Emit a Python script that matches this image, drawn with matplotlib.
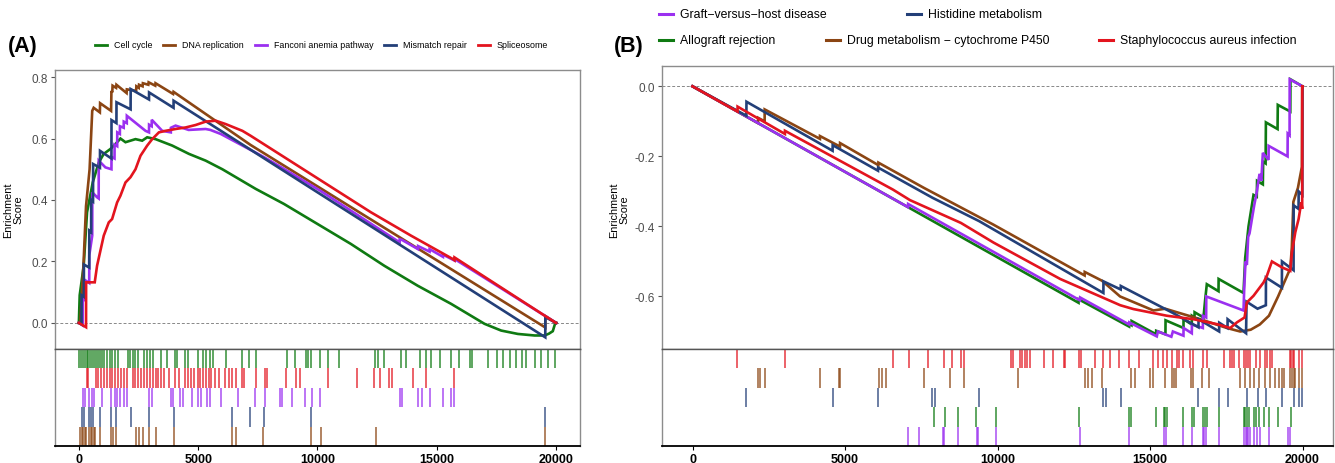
import matplotlib
matplotlib.use("Agg")
import matplotlib.pyplot as plt
from matplotlib.lines import Line2D

plt.rcParams["font.family"] = ["Liberation Sans", "DejaVu Sans"]
plt.rcParams["axes.unicode_minus"] = False

# ---------------- colours ----------------
GREEN = "#0f7a12"
BROWN = "#8b4513"
PURPLE = "#9b30f0"
BLUE = "#233f78"
RED = "#e3141e"

# ---------------- panel A: running enrichment score ----------------
a_cell_x = [0, 35, 203, 343, 581, 833, 1043, 1323, 1533, 1743, 1953, 2373, 2653, 2863, 3213, 3913,
            4613, 5313, 6013, 6713, 7413, 8597, 9997, 11397, 12797, 14197, 15597, 16997, 17697,
            18397, 19097, 19517, 19700, 19860, 19965, 20000]
a_cell_y = [0.0, 0.09, 0.186, 0.36, 0.457, 0.522, 0.55, 0.566, 0.582, 0.60, 0.588, 0.598, 0.593,
            0.604, 0.598, 0.577, 0.55, 0.528, 0.50, 0.468, 0.436, 0.387, 0.322, 0.257, 0.186,
            0.121, 0.062, -0.003, -0.025, -0.036, -0.041, -0.041, -0.035, -0.027, 0.0, 0.0]

a_dna_x = [0, 60, 200, 300, 450, 560, 620, 880, 890, 1350, 1365, 1400, 1413, 1560, 1574, 2000,
           2010, 2400, 2409, 2510, 2521, 2670, 2682, 2910, 2923, 3200, 3212, 3950, 3967, 7197,
           19547, 19550, 20000]
a_dna_y = [0.0, 0.0, 0.20, 0.38, 0.50, 0.69, 0.70, 0.685, 0.715, 0.69, 0.755, 0.75, 0.772, 0.765,
           0.775, 0.748, 0.76, 0.755, 0.77, 0.765, 0.775, 0.77, 0.78, 0.775, 0.783, 0.772, 0.78,
           0.745, 0.752, 0.579, -0.015, 0.022, 0.0]

a_fan_x = [0, 160, 163, 241, 244, 434, 437, 560, 563, 760, 830, 833, 1113, 1365, 1368, 1494, 1497,
           1606, 1609, 1718, 1721, 1879, 1882, 2008, 2011, 2793, 2939, 2942, 3051, 3054, 3493,
           3854, 3857, 4053, 4600, 5313, 5509, 5942, 6665, 7388, 7789, 8512, 9475, 10118, 13442,
           13445, 13539, 14213, 14216, 14695, 14698, 15257, 15260, 15739, 15742, 20000]
a_fan_y = [0.0, -0.008, 0.08, 0.075, 0.14, 0.13, 0.22, 0.284, 0.425, 0.409, 0.405, 0.528, 0.506,
           0.50, 0.54, 0.535, 0.58, 0.575, 0.62, 0.615, 0.64, 0.635, 0.655, 0.65, 0.674, 0.625,
           0.62, 0.645, 0.64, 0.661, 0.625, 0.62, 0.635, 0.642, 0.628, 0.631, 0.628, 0.615, 0.585,
           0.555, 0.538, 0.505, 0.46, 0.43, 0.262, 0.272, 0.27, 0.24, 0.25, 0.232, 0.24, 0.215,
           0.222, 0.203, 0.208, 0.0]

a_mis_x = [0, 112, 115, 209, 212, 434, 437, 514, 517, 594, 597, 883, 886, 1365, 1368, 1574, 1577,
           2168, 2171, 2939, 2942, 3967, 3970, 19545, 19548, 20000]
a_mis_y = [0.0, -0.005, 0.09, 0.085, 0.19, 0.18, 0.30, 0.295, 0.40, 0.395, 0.517, 0.505, 0.56,
           0.535, 0.66, 0.65, 0.718, 0.695, 0.761, 0.727, 0.75, 0.70, 0.723, -0.047, 0.0185, 0.0]

a_spl_x = [0, 301, 304, 665, 763, 1043, 1253, 1393, 1603, 1743, 1953, 2163, 2373, 2583, 2863, 3073,
           3353, 3633, 4053, 4473, 4893, 5313, 5733, 6153, 6853, 7197, 12237, 13917, 15667, 15739,
           15742, 19990, 20000]
a_spl_y = [0.0, -0.014, 0.132, 0.132, 0.186, 0.284, 0.327, 0.338, 0.392, 0.414, 0.457, 0.474,
           0.50, 0.544, 0.577, 0.598, 0.62, 0.625, 0.631, 0.636, 0.644, 0.655, 0.658, 0.647,
           0.625, 0.609, 0.36, 0.284, 0.208, 0.204, 0.213, 0.0, 0.0]

# panel A hit positions (ranks)
a_cell_hits = [0, 80, 161, 241, 321, 402, 482, 562, 642, 723, 803, 883, 964, 1044, 1172, 1285,
               1397, 1526, 1622, 2040, 2136, 2248, 2361, 2489, 2746, 2843, 2971, 3100, 3453, 3694,
               4015, 4127, 4449, 4577, 4979, 5220, 5348, 5509, 5621, 6151, 6826, 7147, 7436, 8721,
               9042, 9508, 9604, 9716, 10118, 10439, 10921, 12414, 12527, 12768, 13490, 13699,
               14293, 14534, 14775, 15145, 15578, 15948, 16381, 16462, 17136, 17505, 17778, 18068,
               18308, 18581, 18742, 19111, 19352, 19674, 19963]
a_spl_hits = [321, 402, 723, 803, 915, 1044, 1172, 1285, 1397, 1526, 1654, 1767, 1879, 2008, 2248,
              2361, 2489, 2618, 2730, 2843, 2971, 3100, 3212, 3324, 3453, 3581, 3774, 4015, 4176,
              4449, 4577, 4706, 4818, 4979, 5091, 5220, 5348, 5460, 5541, 5701, 5862, 6103, 6295,
              6424, 6585, 6826, 6906, 7436, 7789, 7869, 8672, 9106, 9267, 10439, 11676, 12366,
              12639, 13009, 13121, 14020, 14534, 15739]
a_fan_hits = [161, 241, 434, 562, 642, 964, 1365, 1494, 1606, 1718, 1879, 2008, 2939, 3051, 3854,
              3935, 4256, 4384, 4738, 4979, 5139, 5380, 5509, 5942, 6665, 7388, 7789, 8432, 8512,
              8945, 9475, 9764, 10118, 13442, 13539, 14213, 14374, 14695, 15257, 15578, 15739]
a_mis_hits = [112, 209, 434, 514, 594, 883, 1365, 1574, 2168, 2939, 3967, 6424, 7179, 7757, 9748,
              19545]
a_dna_hits = [48, 112, 177, 241, 305, 434, 498, 562, 626, 691, 883, 1365, 1413, 1574, 2409, 2521,
              2682, 2923, 3212, 3967, 6424, 6585, 7709, 9748, 10166, 12446, 19545]

a_names = ["Cell cycle", "DNA replication", "Fanconi anemia pathway", "Mismatch repair", "Spliceosome"]

# ---------------- panel B: running enrichment score ----------------
b_allo_x = [0, 12657, 12660, 14316, 14320, 14393, 14397, 15200, 15203, 15506, 15510,
            16097, 16100, 16370, 16373, 16458, 16462, 16753, 16808, 16863, 17246, 17250, 18066,
            18121, 18230, 18394, 18500, 18510, 18700, 18710, 18790, 18800, 19182, 19190, 19600,
            19605, 20000]
b_allo_y = [0.0, -0.618, -0.608, -0.686, -0.678, -0.682, -0.670, -0.708, -0.698,
            -0.708, -0.668, -0.69, -0.665, -0.68, -0.655, -0.66, -0.645, -0.66, -0.61, -0.565,
            -0.585, -0.55, -0.59, -0.49, -0.40, -0.31, -0.315, -0.27, -0.28, -0.215, -0.22,
            -0.103, -0.122, -0.053, -0.072, 0.02, 0.0]

b_drug_x = [0, 2150, 2152, 2365, 2367, 4178, 4180, 4835, 4838, 6093, 6096, 7588, 9867, 12856,
            12860, 13425, 14019, 15113, 15500, 15880, 16650, 17520, 17957, 18300, 18600, 18900,
            19200, 19300, 19600, 19650, 19700, 19850, 19980, 19990, 20000]
b_drug_y = [0.0, -0.105, -0.090, -0.100, -0.066, -0.150, -0.142, -0.172, -0.162, -0.225, -0.218,
            -0.290, -0.395, -0.540, -0.530, -0.555, -0.600, -0.640, -0.635, -0.645, -0.665,
            -0.69, -0.70, -0.695, -0.68, -0.655, -0.60, -0.58, -0.52, -0.46, -0.33, -0.29,
            -0.23, 0.0, 0.0]

b_gvh_x = [0, 7066, 7070, 12703, 12710, 14316, 14320, 15223, 15260, 15700, 15750, 16097, 16100,
           16370, 16375, 16732, 16735, 16841, 16845, 18066, 18088, 18132, 18176, 18219, 18263,
           18416, 18504, 18591, 18650, 18700, 18887, 18890, 19510, 19515, 19576, 19580, 20000]
b_gvh_y = [0.0, -0.345, -0.336, -0.611, -0.603, -0.680, -0.674, -0.714, -0.70, -0.715, -0.70,
           -0.712, -0.69, -0.705, -0.68, -0.69, -0.655, -0.66, -0.60, -0.64, -0.58, -0.50, -0.51,
           -0.43, -0.42, -0.34, -0.30, -0.25, -0.27, -0.19, -0.21, -0.17, -0.20, -0.135, -0.14,
           0.02, 0.0]

b_his_x = [0, 1766, 1770, 4593, 4596, 6083, 6086, 7864, 9400, 13471, 13475, 14039, 14043, 15770,
           16589, 16592, 17267, 17270, 17541, 17545, 18150, 18165, 18526, 18799, 18802, 19324,
           19327, 19707, 19710, 19871, 19874, 19995, 19998, 20000]
b_his_y = [0.0, -0.084, -0.044, -0.184, -0.168, -0.241, -0.232, -0.318, -0.385, -0.590, -0.557,
           -0.580, -0.570, -0.648, -0.688, -0.665, -0.700, -0.675, -0.690, -0.665, -0.705, -0.615,
           -0.635, -0.625, -0.546, -0.575, -0.50, -0.525, -0.34, -0.35, -0.30, -0.31, 0.0, 0.0]

b_sta_x = [0, 1476, 1478, 3030, 3032, 6574, 7132, 8800, 9867, 12055, 14024, 14457, 15551, 16426,
           17192, 17630, 17849, 18100, 18177, 18395, 18723, 18833, 18997, 19325, 19599, 19654,
           19763, 19872, 19960, 19990, 19992, 20000]
b_sta_y = [0.0, -0.072, -0.058, -0.136, -0.127, -0.295, -0.325, -0.39, -0.446, -0.55, -0.625,
           -0.636, -0.655, -0.665, -0.679, -0.690, -0.674, -0.66, -0.617, -0.598, -0.56, -0.541,
           -0.50, -0.517, -0.527, -0.474, -0.417, -0.379, -0.331, -0.35, 0.0, 0.0]

# panel B hit positions (ranks)
b_sta_hits = [1459, 3026, 6574, 7112, 7711, 8248, 8509, 8817, 8909, 10429, 10522, 10737, 10813,
              10890, 10967, 11059, 11520, 11827, 12165, 12211, 12672, 12733, 13194, 13471, 13701,
              13978, 14316, 14623, 15090, 15277, 15441, 15572, 15725, 15900, 15966, 16097, 16316,
              16403, 16732, 16863, 17410, 17629, 17683, 17760, 17902, 18088, 18143, 18198, 18285,
              18482, 18614, 18777, 18832, 18942, 18996, 19576, 19620, 19675, 19729, 19871, 19990]
b_drug_hits = [2150, 2212, 2365, 4178, 4792, 4838, 6129, 6221, 6328, 7588, 8448, 8909, 10660,
               12856, 12964, 13087, 13425, 14362, 14515, 15003, 15112, 15495, 15714, 15791, 15856,
               16338, 16403, 16699, 16950, 17935, 18121, 18263, 18394, 18558, 18777, 18919, 19105,
               19215, 19324, 19401, 19576, 19642, 19707, 19762, 19871, 19981]
b_his_hits = [1766, 4593, 6083, 7864, 7941, 9400, 13471, 13548, 14039, 16589, 17267, 17541,
              18165, 18526, 18799, 19324, 19707, 19871, 19995]
b_allo_hits = [7910, 8294, 8709, 9293, 9938, 12657, 14316, 14393, 15200, 15462, 15506, 15550,
               16097, 16370, 16458, 16753, 16808, 16863, 17246, 18066, 18121, 18176, 18230, 18394,
               18482, 18558, 18722, 18887, 19182, 19620]
b_gvh_hits = [7066, 7434, 8202, 8248, 8709, 9324, 9370, 9938, 12703, 14316, 15462, 15528, 16097,
              16370, 16732, 16775, 16841, 17246, 18088, 18132, 18176, 18219, 18263, 18416, 18504,
              18591, 18887, 19510, 19576]

b_names = ["Allograft rejection", "Drug metabolism \u2212 cytochrome P450",
           "Graft\u2212versus\u2212host disease", "Histidine metabolism",
           "Staphylococcus aureus infection"]

# ---------------- figure ----------------
W, H = 1335, 464
fig = plt.figure(figsize=(W / 100, H / 100), dpi=100)


def frac(left, top, right, bottom):
    return [left / W, 1 - bottom / H, (right - left) / W, (bottom - top) / H]


def style_top(ax, ylim, yticks):
    ax.set_xlim(-1000, 21000)
    ax.set_ylim(*ylim)
    ax.set_xticks([])
    ax.set_yticks(yticks)
    ax.set_yticklabels([f"{t:.1f}" for t in yticks])
    ax.tick_params(axis="y", length=3, width=0.8, color="#555555", labelsize=8.5,
                   labelcolor="#4d4d4d", pad=2)
    for s in ax.spines.values():
        s.set_color("#8c8c8c")
        s.set_linewidth(1.0)
    ax.spines["bottom"].set_color("#555555")
    ax.axhline(0, color="#888888", lw=0.7, ls=(0, (3, 2)), zorder=0)


def style_rug(ax):
    ax.set_xlim(-1000, 21000)
    ax.set_ylim(0, 5)
    ax.set_yticks([])
    ax.set_xticks([0, 5000, 10000, 15000, 20000])
    ax.tick_params(axis="x", length=3, width=0.8, labelsize=9, pad=2)
    for lab in ax.get_xticklabels():
        lab.set_fontweight("bold")
    for s in ax.spines.values():
        s.set_color("#8c8c8c")
        s.set_linewidth(1.0)
    ax.spines["top"].set_color("#555555")
    ax.spines["bottom"].set_color("black")
    ax.spines["bottom"].set_linewidth(1.3)


# ---- panel A ----
axA = fig.add_axes(frac(55, 71, 580, 350))
rugA = fig.add_axes(frac(55, 350, 580, 447))
style_top(axA, (-0.085, 0.823), [0.0, 0.2, 0.4, 0.6, 0.8])
style_rug(rugA)

a_curves = [(a_cell_x, a_cell_y, GREEN), (a_dna_x, a_dna_y, BROWN), (a_fan_x, a_fan_y, PURPLE),
            (a_mis_x, a_mis_y, BLUE), (a_spl_x, a_spl_y, RED)]
for xs, ys, c in a_curves:
    axA.plot(xs, ys, color=c, lw=1.9, solid_joinstyle="miter")

# rug rows, top to bottom
a_rows = [(a_cell_hits, GREEN), (a_spl_hits, RED), (a_fan_hits, PURPLE), (a_mis_hits, BLUE),
          (a_dna_hits, BROWN)]
for i, (hits, c) in enumerate(a_rows):
    rugA.vlines(hits, 4 - i, 5 - i, color=c, lw=1.1, alpha=0.85)

fig.text(8 / W, 1 - 47 / H, "(A)", fontsize=15.5, fontweight="bold", va="center")
fig.text(13 / W, 1 - 210 / H, "Enrichment\nScore", rotation=90, fontsize=7.8,
         ha="center", va="center", linespacing=1.0)

a_leg = [(114, a_names[0], GREEN), (182, a_names[1], BROWN), (274, a_names[2], PURPLE),
         (403, a_names[3], BLUE), (497, a_names[4], RED)]
for tx, name, c in a_leg:
    yy = 1 - 46 / H
    fig.add_artist(Line2D([(tx - 19) / W, (tx - 7) / W], [yy, yy], color=c, lw=2,
                          transform=fig.transFigure))
    fig.text(tx / W, yy, name, fontsize=6.4, va="center")

# ---- panel B ----
axB = fig.add_axes(frac(662, 67, 1333, 350))
rugB = fig.add_axes(frac(662, 350, 1333, 447))
style_top(axB, (-0.75, 0.058), [0.0, -0.2, -0.4, -0.6])
axB.set_yticklabels(["0.0", "-0.2", "-0.4", "-0.6"])
style_rug(rugB)

b_curves = [(b_allo_x, b_allo_y, GREEN), (b_drug_x, b_drug_y, BROWN), (b_gvh_x, b_gvh_y, PURPLE),
            (b_his_x, b_his_y, BLUE), (b_sta_x, b_sta_y, RED)]
for xs, ys, c in b_curves:
    axB.plot(xs, ys, color=c, lw=1.9, solid_joinstyle="miter")

b_rows = [(b_sta_hits, RED), (b_drug_hits, BROWN), (b_his_hits, BLUE), (b_allo_hits, GREEN),
          (b_gvh_hits, PURPLE)]
for i, (hits, c) in enumerate(b_rows):
    rugB.vlines(hits, 4 - i, 5 - i, color=c, lw=1.1, alpha=0.85)

fig.text(614 / W, 1 - 47 / H, "(B)", fontsize=15.5, fontweight="bold", va="center")
fig.text(619 / W, 1 - 210 / H, "Enrichment\nScore", rotation=90, fontsize=7.8,
         ha="center", va="center", linespacing=1.0)

b_leg = [(659, 15, b_names[2], PURPLE), (907, 15, b_names[3], BLUE),
         (659, 41, b_names[0], GREEN), (826, 41, b_names[1], BROWN), (1099, 41, b_names[4], RED)]
for x0, y0, name, c in b_leg:
    yy = 1 - y0 / H
    fig.add_artist(Line2D([x0 / W, (x0 + 14) / W], [yy, yy], color=c, lw=2.2,
                          transform=fig.transFigure))
    fig.text((x0 + 21) / W, yy, name, fontsize=8.8, va="center")

fig.savefig("out.png", dpi=100)
